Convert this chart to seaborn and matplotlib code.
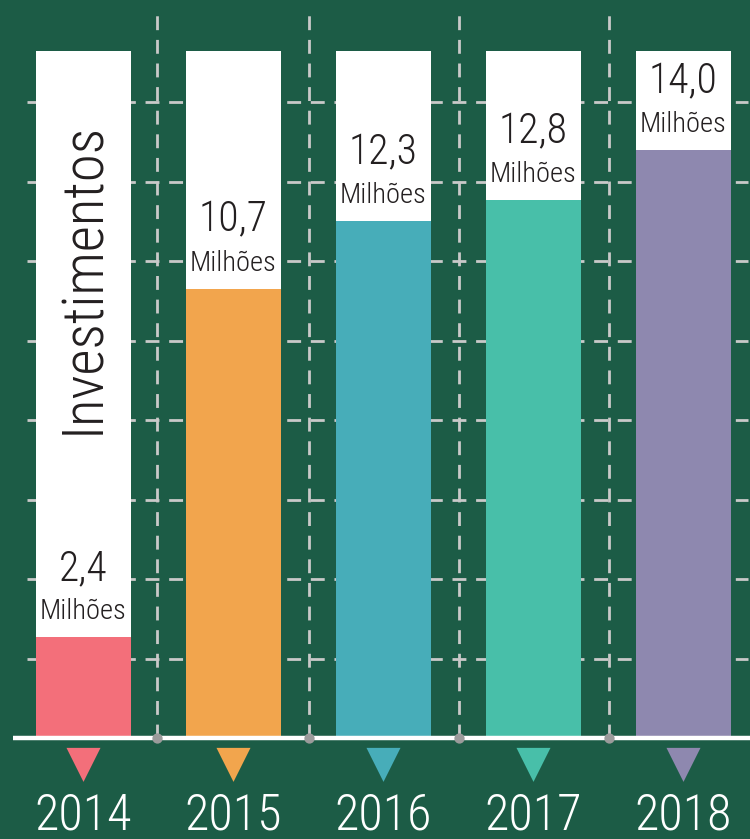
import numpy as np
import pandas as pd
import seaborn as sns
import matplotlib.pyplot as plt

# data
years = ["2014", "2015", "2016", "2017", "2018"]
valores = [2.4, 10.7, 12.3, 12.8, 14.0]
rotulos = ["2,4", "10,7", "12,3", "12,8", "14,0"]
cores = ["#f36f7a", "#f2a54d", "#47adb9", "#48bfa9", "#8e88af"]

df = pd.DataFrame({"ano": years, "valor": valores})
df["fundo"] = 16.36  # white column height

bg = "#1c5c46"
dash = "#c9c9c9"

sns.set_theme(style="white")
plt.rcParams["font.family"] = ["Roboto Condensed", "Archivo Narrow",
                               "Liberation Sans Narrow", "DejaVu Sans"]
plt.rcParams["font.weight"] = "light"

fig = plt.figure(figsize=(7.5, 8.39), dpi=100, facecolor=bg)
ax = fig.add_axes([0, 0, 1, 1])
ax.set_facecolor(bg)

# dashed grid
seps = [0.49, 1.5, 2.5, 3.5]
for k in range(1, 9):
    ax.axhline(k * 79.5 / 42, xmin=0.036, xmax=0.997, color=dash, lw=2,
               dashes=(5, 3.5), zorder=0)
for xs in seps:
    ax.plot([xs, xs], [0, 17.26], color=dash, lw=2, dashes=(5, 3.5), zorder=0)

w = 0.635
sns.barplot(data=df, x="ano", y="fundo", color="white", width=w,
            saturation=1, linewidth=0, ax=ax, zorder=2)
sns.barplot(data=df, x="ano", y="valor", hue="ano", palette=cores, width=w,
            saturation=1, linewidth=0, legend=False, ax=ax, zorder=3)

# baseline with dots
ax.plot([-0.47, 4.6], [0, 0], color="white", lw=3.2, zorder=4,
        solid_capstyle="butt")
ax.scatter(seps, [0] * len(seps), s=55, color="#9b9b9b", zorder=5,
           linewidths=0)

# triangles and years
ax.scatter(range(5), [-0.64] * 5, marker="v", s=600, c=cores, zorder=5,
           linewidths=0)
for i, y in enumerate(years):
    ax.text(i, -1.84, y, ha="center", va="center", color="white",
            fontsize=36, zorder=6)

# value labels
for i, (v, r) in enumerate(zip(valores, rotulos)):
    ax.annotate("Milhões", (i, v), xytext=(0, 13), textcoords="offset points",
                ha="center", va="baseline", fontsize=20.5, color="#231f20",
                zorder=6)
    ax.annotate(r, (i, v), xytext=(0, 41), textcoords="offset points",
                ha="center", va="baseline", fontsize=30, color="#231f20",
                zorder=6)

ax.text(0, 10.95, "Investimentos", rotation=90, ha="center", va="center",
        fontsize=41, color="#231f20", zorder=6)

ax.set_xlim(-83.5 / 150, (750 - 83.5) / 150)
ax.set_ylim(-101 / 42, 738 / 42)
ax.set_axis_off()

fig.savefig("out.png", dpi=100, facecolor=bg)
